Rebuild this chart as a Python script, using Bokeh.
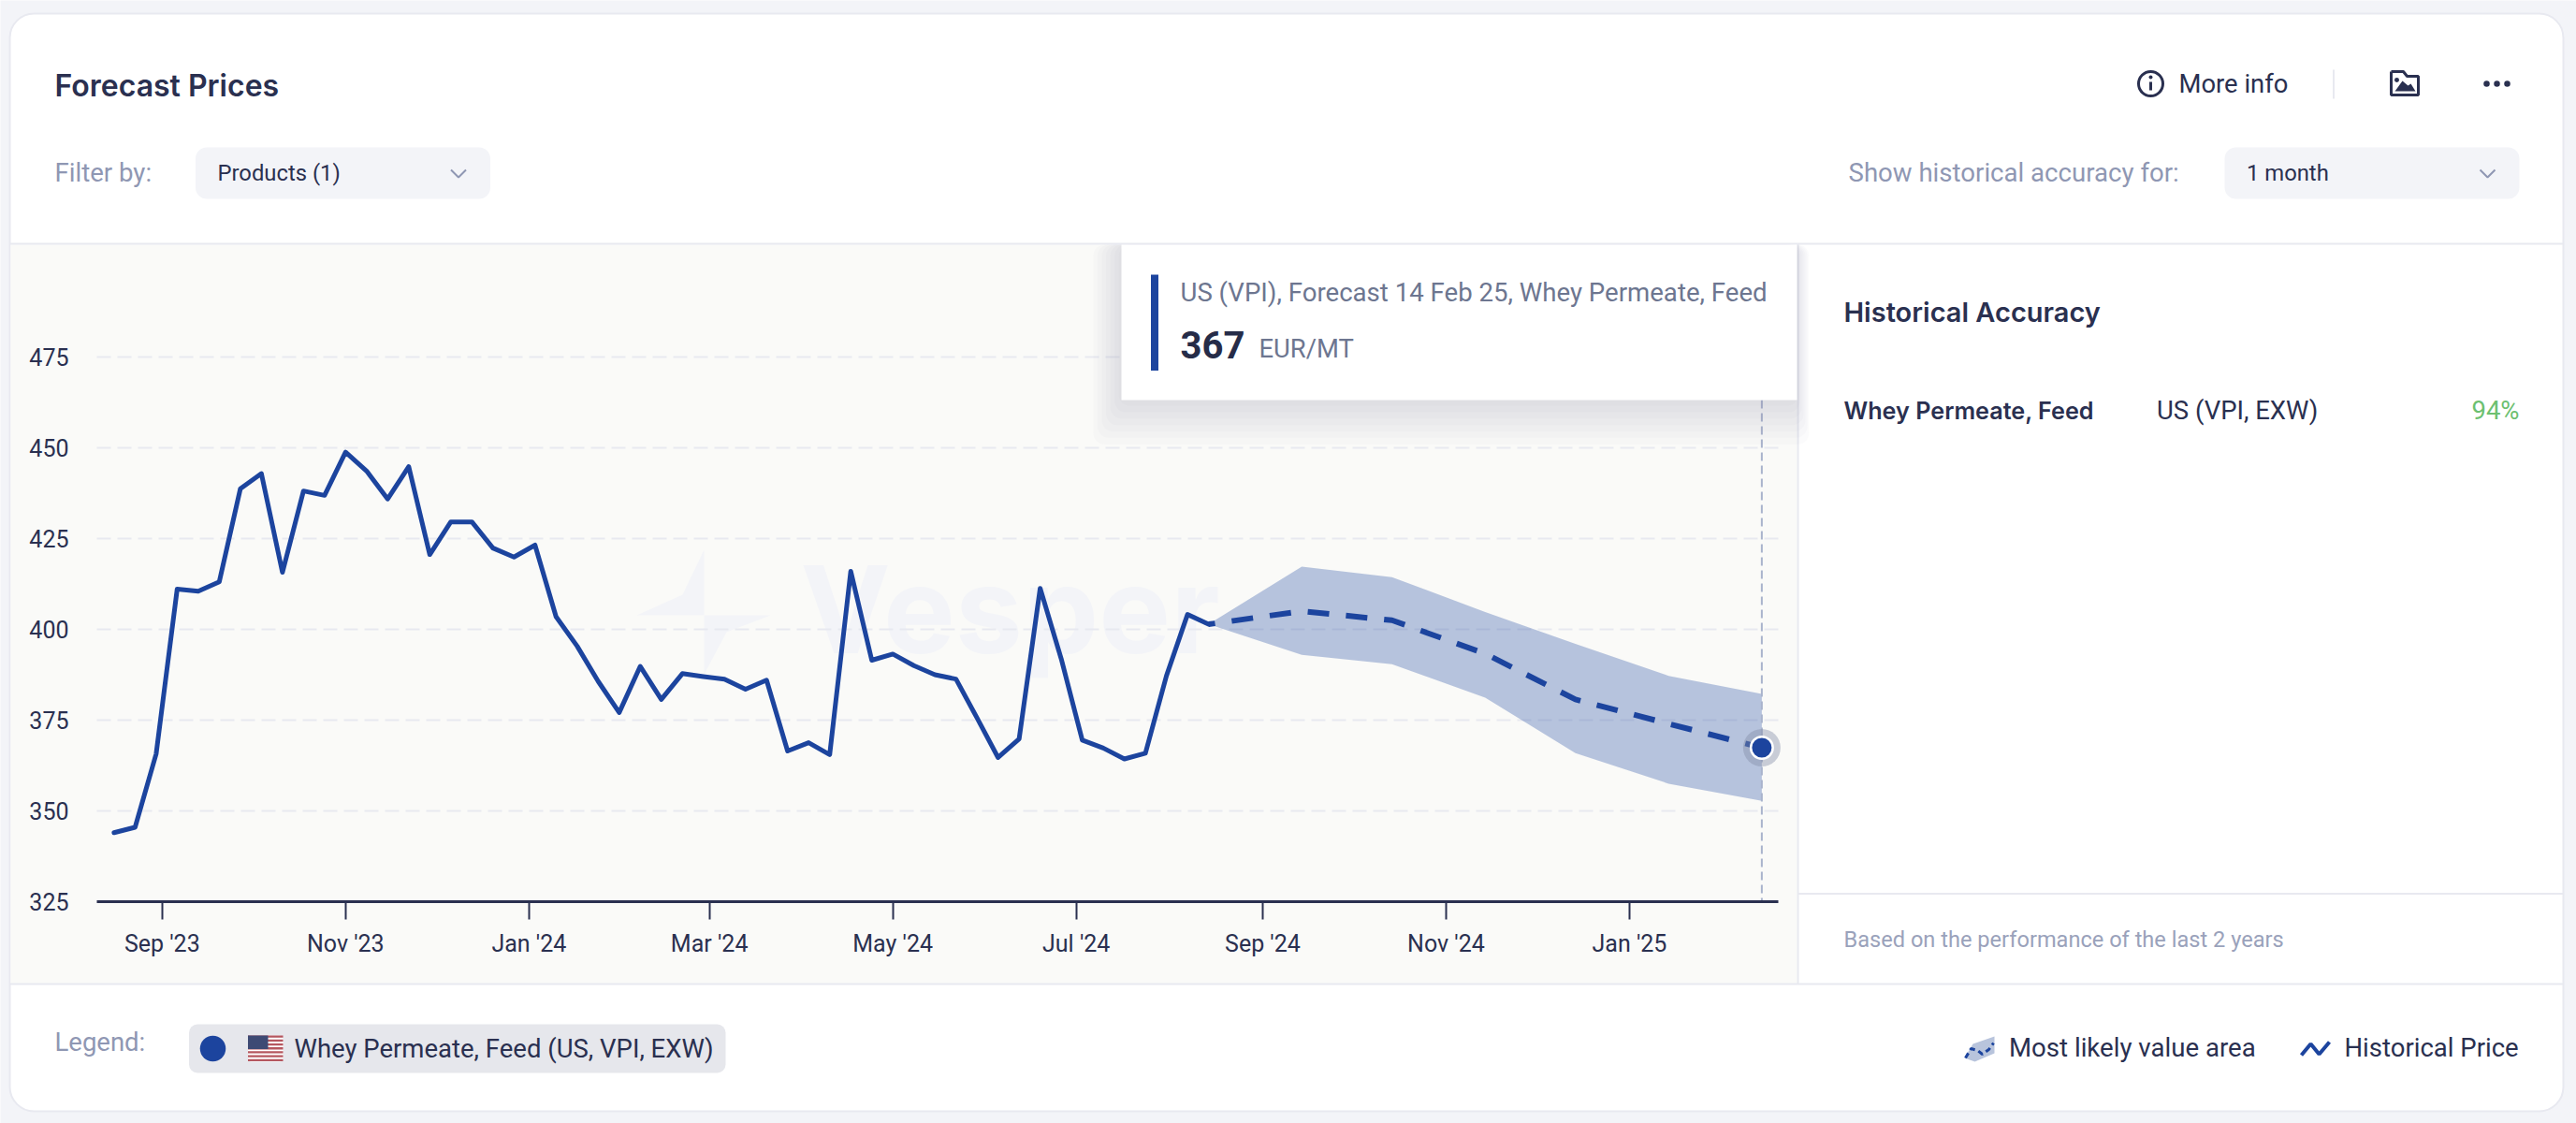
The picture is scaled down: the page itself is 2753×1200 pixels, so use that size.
import pandas as pd
from bokeh.plotting import figure
from bokeh.models import Range1d, LinearAxis, FixedTicker
from bokeh.core.properties import value
from bokeh.embed import file_html
from bokeh.resources import INLINE

# ---------- data ----------
hist_dates = ["2023-08-16","2023-08-23","2023-08-30","2023-09-06","2023-09-13","2023-09-20","2023-09-27",
              "2023-10-04","2023-10-11","2023-10-18","2023-10-25","2023-11-01","2023-11-08","2023-11-15",
              "2023-11-22","2023-11-29","2023-12-06","2023-12-13","2023-12-20","2023-12-27","2024-01-03",
              "2024-01-10","2024-01-17","2024-01-24","2024-01-31","2024-02-07","2024-02-14","2024-02-21",
              "2024-02-28","2024-03-06","2024-03-13","2024-03-20","2024-03-27","2024-04-03","2024-04-10",
              "2024-04-17","2024-04-24","2024-05-01","2024-05-08","2024-05-15","2024-05-22","2024-05-29",
              "2024-06-05","2024-06-12","2024-06-19","2024-06-26","2024-07-03","2024-07-10","2024-07-17",
              "2024-07-24","2024-07-31","2024-08-07","2024-08-14"]
hist_values = [344.0,345.5,365.7,411.1,410.5,413.1,438.7,442.9,415.7,438.1,436.9,448.8,443.6,435.9,444.8,
               420.6,429.6,429.6,422.4,419.9,423.2,403.5,395.4,385.7,377.1,389.8,380.7,387.8,387.0,386.3,
               383.5,386.0,366.5,368.8,365.5,416.0,391.5,393.2,390.0,387.5,386.3,375.6,364.7,369.8,411.3,
               391.9,369.5,367.3,364.3,365.9,387.2,404.1,401.4]
fc_dates = ["2024-08-14","2024-09-14","2024-10-14","2024-11-14","2024-12-14","2025-01-14","2025-02-14"]
fc_mid = [401.4,405.0,402.5,393.3,380.7,374.0,367.4]
fc_upper = [401.4,417.3,414.4,404.8,396.0,387.2,382.2]
fc_lower = [401.4,393.0,390.4,381.2,365.9,357.5,352.8]
y_ticks = [325,350,375,400,425,450,475]
x_tick_dates = ["2023-09-01","2023-11-01","2024-01-01","2024-03-01","2024-05-01","2024-07-01",
                "2024-09-01","2024-11-01","2025-01-01"]
x_tick_labels = ["Sep '23","Nov '23","Jan '24","Mar '24","May '24","Jul '24","Sep '24","Nov '24","Jan '25"]

# ---------- colours ----------
BG = "#f3f4f8"; INK = "#2a3050"; MUTED = "#8f97b3"; BLUE = "#1c449e"; LINE = "#e8e9f0"; PLOT = "#fafaf8"
ROB = "Roboto"; INT = "Inter"; INTS = "Inter SemiBold"

# ---------- layout of the page (px) ----------
PX0, PY0, W, H = 0, 0, 2753, 1200
X_SEP1, PX_PER_DAY = 172.8, 3.2135
Y_325, PX_PER_UNIT = 963.0, 3.88

def ms(d):
    return pd.Timestamp(d).timestamp() * 1000.0
MS_DAY = 86400000.0
def px2ms(px):
    return ms("2023-09-01") + (px - X_SEP1) / PX_PER_DAY * MS_DAY
def px2v(py):
    return 325 + (Y_325 - py) / PX_PER_UNIT

p = figure(width=W, height=H, output_backend="svg", toolbar_location=None, x_axis_type=None, y_axis_type=None,
           x_range=Range1d(PX0, PX0 + W), y_range=Range1d(PY0 + H, PY0), min_border=0,
           outline_line_color=None, background_fill_color=BG, border_fill_color=BG)
p.grid.visible = False
p.extra_x_ranges["date"] = Range1d(px2ms(PX0), px2ms(PX0 + W))
p.extra_y_ranges["price"] = Range1d(px2v(PY0 + H), px2v(PY0))
D = dict(x_range_name="date", y_range_name="price")

def box(l, r, t, b, fill, radius=0, line=None, lw=1, alpha=1.0):
    p.quad(left=[l], right=[r], top=[t], bottom=[b], fill_color=fill, fill_alpha=alpha, line_color=line,
           line_width=lw, border_radius=radius)
def hv(xs, ys, color=LINE, lw=2, dash="solid"):
    p.line(xs, ys, line_color=color, line_width=lw, line_dash=dash)
def txt(x, y, s, size, color=INK, font=ROB, style="normal", align="left"):
    p.text(x=[x], y=[y], text=[s], text_font=value(font), text_font_size=f"{size}px", text_color=color,
           text_font_style=style, text_align=align, text_baseline="middle")
def chevron(cx, cy):
    p.line([cx - 8, cx, cx + 8], [cy - 4, cy + 4, cy - 4], line_color="#8f97b3", line_width=2)

# card
box(10, 2739, 14, 1187, "#ffffff", radius=26, line=LINE, lw=2)
box(11, 1920, 261, 1051, PLOT)

# watermark
WM = "#f3f4f8"
p.patch([752, 729, 680, 752], [587, 635, 657, 657], fill_color=WM, line_color=None)
p.patch([752, 823, 776, 752], [657, 657, 675, 720], fill_color=WM, line_color=None)
txt(855, 650, "Vesper", 129, WM, INT, "bold")

# header
txt(58, 91, "Forecast Prices", 32, INK, INTS)
txt(58, 184, "Filter by:", 27.6, MUTED)
box(208.5, 523.5, 157, 212, BG, radius=12)
txt(232, 184, "Products (1)", 23.8)
chevron(489.5, 185)
txt(1975, 184, "Show historical accuracy for:", 27.6, MUTED)
box(2377, 2692, 157, 212, BG, radius=12)
txt(2400.5, 184, "1 month", 23.8)
chevron(2658, 185)
p.scatter([2298], [89], size=26, marker="circle", fill_color=None, line_color=INK, line_width=3)
hv([2298, 2298], [87, 96], INK, 3)
p.scatter([2298], [82], size=4, fill_color=INK, line_color=None)
txt(2328, 89, "More info", 27.4)
hv([2493.5, 2493.5], [74, 105], LINE, 2)
p.line([2555, 2568, 2572, 2584, 2584, 2555, 2555], [76, 76, 81, 81, 101, 101, 76], line_color=INK, line_width=3)
p.patch([2559, 2567, 2573, 2576, 2581], [97, 86, 91, 89, 97], fill_color=INK, line_color=None)
p.scatter([2561], [85], size=5, fill_color=INK, line_color=None)
p.scatter([2657, 2668, 2679], [89, 89, 89], size=6.5, fill_color=INK, line_color=None)

# separators
hv([10, 2739], [260, 260])
hv([1921, 1921], [260, 1051])
hv([1921, 2739], [954.5, 954.5])
hv([10, 2739], [1051, 1051])

# grid
grid_l, grid_r = px2ms(103), px2ms(1900)
p.segment(x0=[grid_l] * 6, x1=[grid_r] * 6, y0=y_ticks[1:], y1=y_ticks[1:], line_color=LINE, line_width=2,
          line_dash="15 7", **D)

# forecast band, lines
fc_x = [ms(d) for d in fc_dates]
hist_x = [ms(d) for d in hist_dates]
p.varea(x=fc_x, y1=fc_lower, y2=fc_upper, fill_color=BLUE, fill_alpha=0.3, **D)
p.line(hist_x, hist_values, line_color=BLUE, line_width=5, line_join="round", line_cap="round", **D)
p.line(fc_x, fc_mid, line_color=BLUE, line_width=6, line_dash="23 18", line_dash_offset=16, **D)

# crosshair
p.segment(x0=[fc_x[-1]], x1=[fc_x[-1]], y0=[px2v(427)], y1=[325], line_color="#a9b3cc", line_width=2,
          line_dash="9 5", **D)
# selected point
p.scatter([fc_x[-1]], [fc_mid[-1]], size=40, fill_color="#838ca8", fill_alpha=0.42, line_color=None, **D)
p.scatter([fc_x[-1]], [fc_mid[-1]], size=26, fill_color="#ffffff", line_color=None, **D)
p.scatter([fc_x[-1]], [fc_mid[-1]], size=21, fill_color=BLUE, line_color=None, **D)

# axes
ya = LinearAxis(y_range_name="price", fixed_location=103, ticker=FixedTicker(ticks=y_ticks), axis_line_color=None,
                major_tick_line_color=None, minor_tick_line_color=None, major_label_standoff=24,
                major_label_text_font=ROB, major_label_text_font_size="25px", major_label_text_color=INK)
p.add_layout(ya, "left")
x_ticks = [ms(d) for d in x_tick_dates]
xa = LinearAxis(x_range_name="date", fixed_location=Y_325, ticker=FixedTicker(ticks=x_ticks),
                major_label_overrides=dict(zip(x_ticks, x_tick_labels)), bounds=(grid_l, grid_r),
                axis_line_color=INK, axis_line_width=3, major_tick_line_color=INK, major_tick_line_width=2,
                major_tick_in=0, major_tick_out=19, minor_tick_line_color=None, major_label_standoff=11,
                major_label_text_font=ROB, major_label_text_font_size="25px", major_label_text_color=INK)
p.add_layout(xa, "below")

# tooltip
for i in range(7):
    s = 4 + i * 6.5
    box(1198 - s * 0.7, 1920 + s * 0.3, 261, 427 + 2 + s * 1.05, "#8a90b4", radius=12, alpha=0.035)
box(1198, 1920, 261, 427, "#ffffff")
box(1229.5, 1237.5, 293, 395.5, BLUE)
txt(1261, 312, "US (VPI), Forecast 14 Feb 25, Whey Permeate, Feed", 27.6, "#6d7690")
txt(1261, 368, "367", 40, "#262c48", ROB, "bold")
txt(1345, 372, "EUR/MT", 27.4, "#6d7690")

# right panel
txt(1970, 333, "Historical Accuracy", 29, INK, INTS)
txt(1970, 438, "Whey Permeate, Feed", 25.2, INK, INTS)
txt(2304.5, 438, "US (VPI, EXW)", 27.5)
txt(2692, 438, "94%", 27.5, "#6cc070", ROB, "normal", "right")
txt(1970, 1003, "Based on the performance of the last 2 years", 23.6, "#9aa2bb")

# legend
txt(58, 1113, "Legend:", 27.5, MUTED)
box(201.5, 775, 1094, 1146, "#e6e7ec", radius=9)
p.scatter([227], [1120], size=27.5, fill_color=BLUE, line_color=None)
box(264.5, 302, 1106, 1134, "#ffffff", radius=4)
for t in [1106, 1110.2, 1114.4, 1118.6, 1122.8, 1127, 1131.2]:
    box(264.5, 302, t, t + 2.3, "#b5575f")
box(264.5, 286, 1106, 1120.5, "#3e4a74")
txt(314, 1120, "Whey Permeate, Feed (US, VPI, EXW)", 27.5)
p.patch([2099, 2108, 2131, 2131, 2110], [1130, 1115, 1107, 1125, 1134], fill_color="#b8c4dc", line_color=None)
p.line([2100, 2106, 2113, 2118, 2125, 2130], [1130, 1120, 1122, 1126, 1121, 1114], line_color=BLUE, line_width=3,
       line_dash="6 4")
txt(2146.5, 1119, "Most likely value area", 27.6)
p.line([2459, 2469, 2478, 2489], [1127, 1115, 1126, 1113], line_color=BLUE, line_width=4)
txt(2505, 1119, "Historical Price", 27.5)

open("out.html", "w").write(file_html(p, INLINE))
